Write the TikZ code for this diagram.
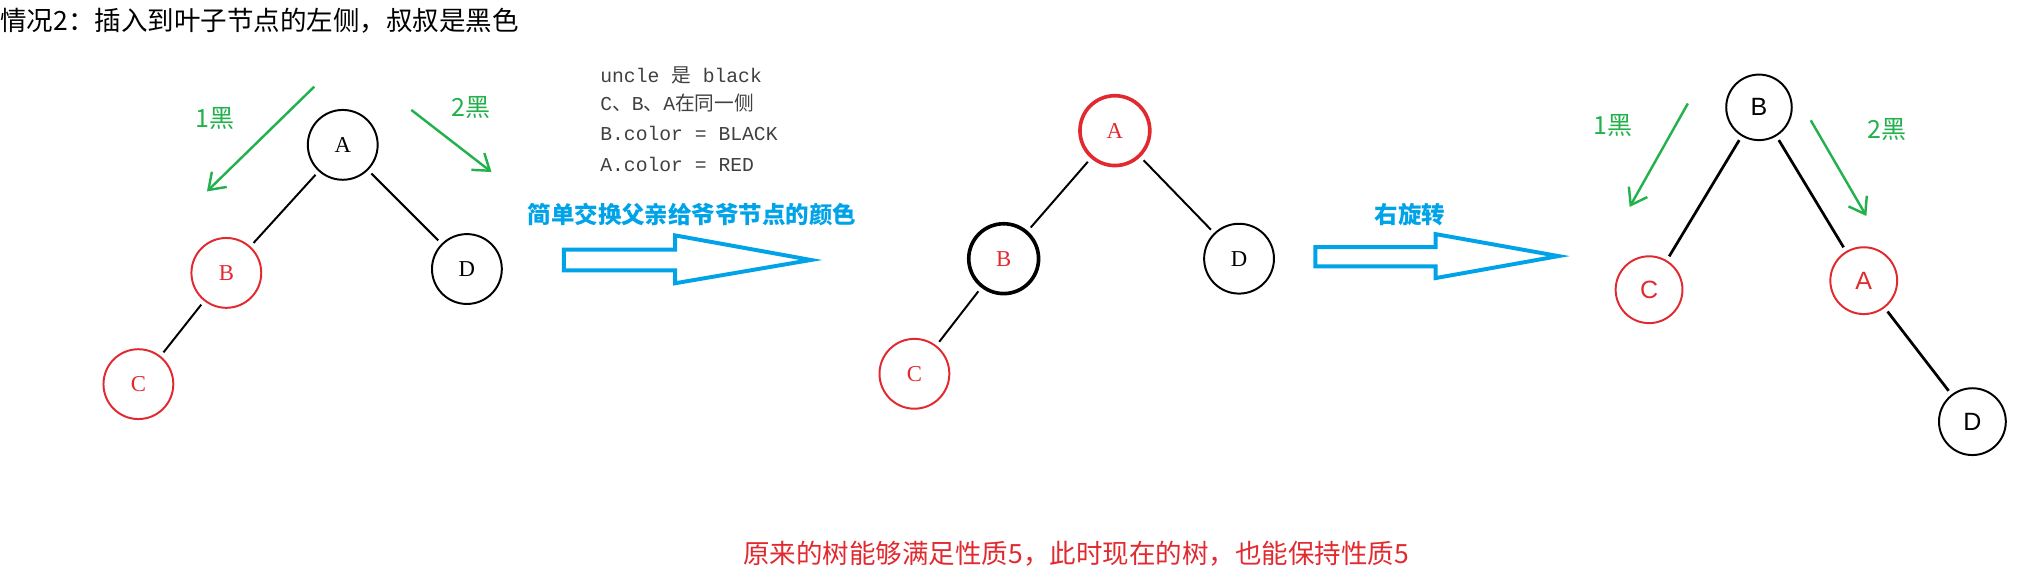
\documentclass[tikz,border=0pt]{standalone}
\usepackage{fontspec}
\setmainfont{Liberation Serif}
\setsansfont{Liberation Sans}
\setmonofont{Liberation Mono}
\newfontfamily\cjk{Noto Sans CJK SC}
\usetikzlibrary{arrows.meta}
\definecolor{nred}{HTML}{E02A2F}
\definecolor{ngreen}{HTML}{22B14C}
\definecolor{nblue}{HTML}{00A2E8}
\tikzset{
  x=0.03cm, y=-0.03cm,
  rb/.style={circle, draw=nred, line width=1.3pt, minimum size=1.62cm, inner sep=0pt, text=nred, font=\fontsize{15}{17}\selectfont},
  bb/.style={circle, draw=black, line width=1.3pt, minimum size=1.62cm, inner sep=0pt, font=\fontsize{15}{17}\selectfont},
  edge/.style={line width=1.3pt, shorten >=3pt, shorten <=3pt},
  garrow/.style={ngreen, line width=1.6pt, -{Straight Barb[length=10pt,width=14pt,line width=1.6pt]}},
  glab/.style={text=ngreen, font=\cjk\fontsize{16.5}{18}\selectfont},
  hollow/.style={draw=nblue, line width=2.6pt, line join=miter},
  mono/.style={anchor=west, text=black!75, font=\ttfamily\fontsize{13}{15}\selectfont}
}
\begin{document}
\begin{tikzpicture}
\useasboundingbox (0,0) rectangle (1568,446);
\node[anchor=west, inner sep=0pt, font=\cjk\fontsize{17.5}{19}\selectfont] (title) at (0,16) {情况2：插入到叶子节点的左侧，叔叔是黑色};
% tree 1
\node[bb] (A1) at (265,112) {A};
\node[rb] (B1) at (175,211) {B};
\node[rb] (C1) at (107,297) {C};
\node[bb] (D1) at (361,208) {D};
\draw[edge] (A1) -- (B1); \draw[edge] (A1) -- (D1); \draw[edge] (B1) -- (C1);
\coordinate (g1s) at (243,67); \coordinate (g1e) at (160,148);
\coordinate (g2s) at (318,85); \coordinate (g2e) at (380,133);
\draw[garrow] (g1s) -- (g1e); \draw[garrow] (g2s) -- (g2e);
\node[glab] (l1) at (166,92) {1黑};
\node[glab] (l2) at (364,83) {2黑};
\node[mono] (t1) at (460,58) {uncle {\cjk 是} black};
\node[mono] (t2) at (460,80) {C{\cjk 、}B{\cjk 、}A{\cjk 在同一侧}};
\node[mono] (t3) at (460,103) {B.color = BLACK};
\node[mono] (t4) at (460,127) {A.color = RED};
\node[text=nblue, font=\cjk\bfseries\fontsize{15.5}{17}\selectfont] (s1) at (535,166) {简单交换父亲给爷爷节点的颜色};
\draw[hollow] (436,193) -- (522,193) -- (522,182) -- (627,201) -- (522,219) -- (522,209) -- (436,209) -- cycle;
% tree 2
\node[rb, line width=2.4pt] (A2) at (862,101) {A};
\node[bb, line width=2.4pt, text=nred] (B2) at (776,200) {B};
\node[rb] (C2) at (707,289) {C};
\node[bb] (D2) at (958,200) {D};
\draw[edge] (A2) -- (B2); \draw[edge] (A2) -- (D2); \draw[edge] (B2) -- (C2);
\node[text=nblue, font=\cjk\bfseries\fontsize{15.5}{17}\selectfont] (s2) at (1090,166) {右旋转};
\draw[hollow] (1017,191) -- (1110,191) -- (1110,181) -- (1205,198) -- (1110,215) -- (1110,206) -- (1017,206) -- cycle;
% tree 3
\tikzset{sf/.style={font=\sffamily\fontsize{16.5}{18}\selectfont}}
\node[bb, sf, minimum size=1.52cm] (B3) at (1360,83) {B};
\node[rb, sf, minimum size=1.55cm] (C3) at (1275,224) {C};
\node[rb, sf, minimum size=1.55cm] (A3) at (1441,217) {A};
\node[bb, sf, minimum size=1.55cm] (D3) at (1525,326) {D};
\draw[edge, line width=1.8pt] (B3) -- (C3); \draw[edge, line width=1.8pt] (B3) -- (A3); \draw[edge, line width=1.8pt] (A3) -- (D3);
\coordinate (g3s) at (1305,80); \coordinate (g3e) at (1260,160);
\coordinate (g4s) at (1400,93); \coordinate (g4e) at (1443,167);
\draw[garrow] (g3s) -- (g3e); \draw[garrow] (g4s) -- (g4e);
\node[glab] (l3) at (1247,97) {1黑};
\node[glab] (l4) at (1459,100) {2黑};
\node[text=nred, font=\cjk\fontsize{17.5}{19}\selectfont] (bot) at (832,428) {原来的树能够满足性质5，此时现在的树，也能保持性质5};
\end{tikzpicture}
\end{document}
